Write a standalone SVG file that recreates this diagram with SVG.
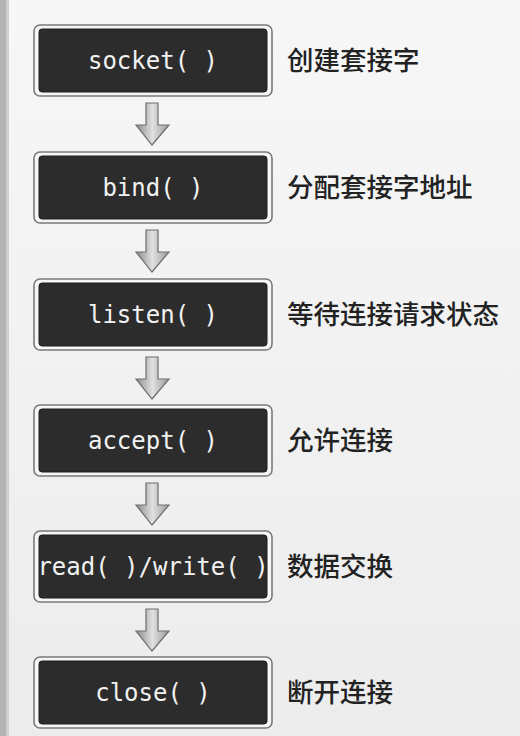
<svg xmlns="http://www.w3.org/2000/svg" width="520" height="736" viewBox="0 0 520 736">
<defs>
<linearGradient id="ag" x1="0" y1="0" x2="1" y2="0">
<stop offset="0" stop-color="#8a8a8a"/>
<stop offset="0.5" stop-color="#e0e0e0"/>
<stop offset="1" stop-color="#9a9a9a"/>
</linearGradient>
<linearGradient id="sg" x1="0" y1="0" x2="0" y2="1">
<stop offset="0" stop-color="#f7f7f7"/>
<stop offset="1" stop-color="#ececec"/>
</linearGradient>
</defs>
<style>
.outer{fill:#f6f6f6;stroke:#7a7a7a;stroke-width:1.6}
.inner{fill:#2c2c2c;stroke:#1e1e1e;stroke-width:1}
.fn{font-family:"DejaVu Sans Mono","Liberation Mono",monospace;font-size:24px;fill:#f2f2f2;text-anchor:middle}
.lb{font-family:"Noto Sans CJK SC","Noto Sans",sans-serif;font-size:26.5px;fill:#222;font-weight:500}
.arr{fill:url(#ag);stroke:#6e6e6e;stroke-width:1.2;stroke-linejoin:miter}
</style>
<rect x="0" y="0" width="520" height="736" fill="url(#sg)"/>
<rect x="0" y="0" width="8" height="736" fill="#b2b2b2"/>
<rect x="6" y="0" width="3" height="736" fill="#cfcfcf"/>

<g id="connectors">
<path class="arr" d="M146,103 H158 V125 H169 L152,145 L136,125 H146 Z"/>
<path class="arr" d="M146,230 H158 V252 H169 L152,272 L136,252 H146 Z"/>
<path class="arr" d="M146,357 H158 V379 H169 L152,399 L136,379 H146 Z"/>
<path class="arr" d="M146,483 H158 V505 H169 L152,525 L136,505 H146 Z"/>
<path class="arr" d="M146,609 H158 V631 H169 L152,651 L136,631 H146 Z"/>
</g>

<g id="node-socket">
<rect class="outer" x="34" y="25" width="238" height="71" rx="6"/>
<rect class="inner" x="39" y="29" width="228" height="63" rx="3"/>
<text class="fn" x="153" y="69">socket( )</text>
<text class="lb" x="287" y="70">创建套接字</text>
</g>
<g id="node-bind">
<rect class="outer" x="34" y="152" width="238" height="71" rx="6"/>
<rect class="inner" x="39" y="156" width="228" height="63" rx="3"/>
<text class="fn" x="153" y="196">bind( )</text>
<text class="lb" x="287" y="197">分配套接字地址</text>
</g>
<g id="node-listen">
<rect class="outer" x="34" y="279" width="238" height="71" rx="6"/>
<rect class="inner" x="39" y="283" width="228" height="63" rx="3"/>
<text class="fn" x="153" y="323">listen( )</text>
<text class="lb" x="287" y="324">等待连接请求状态</text>
</g>
<g id="node-accept">
<rect class="outer" x="34" y="405" width="238" height="71" rx="6"/>
<rect class="inner" x="39" y="409" width="228" height="63" rx="3"/>
<text class="fn" x="153" y="449">accept( )</text>
<text class="lb" x="287" y="450">允许连接</text>
</g>
<g id="node-readwrite">
<rect class="outer" x="34" y="531" width="238" height="71" rx="6"/>
<rect class="inner" x="39" y="535" width="228" height="63" rx="3"/>
<text class="fn" x="153" y="575">read( )/write( )</text>
<text class="lb" x="287" y="576">数据交换</text>
</g>
<g id="node-close">
<rect class="outer" x="34" y="657" width="238" height="71" rx="6"/>
<rect class="inner" x="39" y="661" width="228" height="63" rx="3"/>
<text class="fn" x="153" y="701">close( )</text>
<text class="lb" x="287" y="702">断开连接</text>
</g>
</svg>
